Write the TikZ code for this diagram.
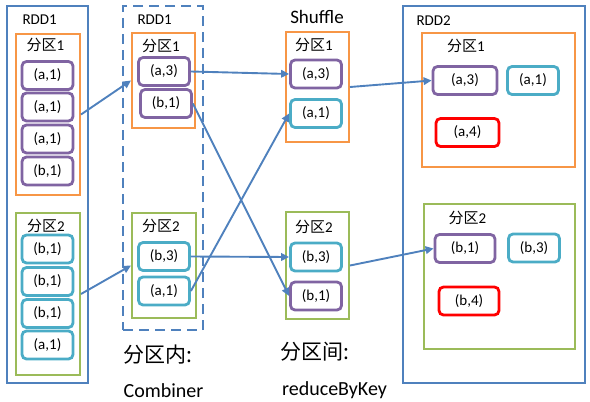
\documentclass[tikz,border=0pt]{standalone}
\usepackage{fontspec}
\setmainfont{Carlito}
\newfontfamily\cjk{Noto Sans CJK SC}
\usetikzlibrary{arrows.meta}

\definecolor{rddblue}{RGB}{79,129,189}
\definecolor{partorange}{RGB}{247,150,70}
\definecolor{partgreen}{RGB}{155,187,89}
\definecolor{pairpurple}{RGB}{128,100,162}
\definecolor{paircyan}{RGB}{75,172,198}
\definecolor{pairred}{RGB}{255,0,0}

\begin{document}
\begin{tikzpicture}[x=1pt,y=-1pt,
  pair/.style={draw, rounded corners=4.5pt, line width=2.8pt, minimum width=51pt,
    minimum height=28pt, inner sep=0pt, font=\fontsize{15}{15}\selectfont},
  part/.style={draw, line width=2pt, inner sep=0pt},
  rdd/.style={draw=rddblue, line width=2.4pt, inner sep=0pt},
  flow/.style={rddblue, line width=1.9pt, -{Triangle[length=8pt,width=7.5pt]}},
  lbl/.style={font=\fontsize{15}{15}\selectfont},
  biglbl/.style={font=\fontsize{20}{20}\selectfont}]

  \useasboundingbox (0,0) rectangle (590,402);

  % RDD1 (input)
  \node[rdd, minimum width=81pt, minimum height=377pt] (rddA) at (47.5,194.5) {};
  \node[lbl, anchor=west] at (19,20) {RDD1};
  \node[part, draw=partorange, minimum width=64pt, minimum height=161pt] (lp1) at (48,114.5) {};
  \node[part, draw=partgreen, minimum width=64pt, minimum height=162pt] (lp2) at (48,294) {};
  \node[lbl] at (45.5,45) {{\cjk 分区}1};
  \node[lbl] at (46,226) {{\cjk 分区}2};
  \foreach \y/\t [count=\i] in {75.5/a,107/a,139/a,171/b}
    \node[pair, draw=pairpurple] (la\i) at (47.5,\y) {(\t,1)};
  \foreach \y/\t [count=\i] in {249/b,281.5/b,313.5/b,345/a}
    \node[pair, draw=paircyan] (lb\i) at (47.5,\y) {(\t,1)};

  % RDD1 after combiner
  \node[rdd, dash pattern=on 10pt off 6pt, minimum width=80pt, minimum height=324pt] (comb) at (163,168) {};
  \node[lbl, anchor=west] at (134,20) {RDD1};
  \node[part, draw=partorange, minimum width=63pt, minimum height=95pt] (dp1) at (163.5,80.5) {};
  \node[part, draw=partgreen, minimum width=64pt, minimum height=105pt] (dp2) at (164,265.5) {};
  \node[lbl] at (161,46) {{\cjk 分区}1};
  \node[lbl] at (161,226) {{\cjk 分区}2};
  \node[pair, draw=pairpurple] (da3) at (164,71.5) {(a,3)};
  \node[pair, draw=pairpurple] (db1) at (166,103.5) {(b,1)};
  \node[pair, draw=paircyan] (db3) at (164,256.5) {(b,3)};
  \node[pair, draw=paircyan] (da1) at (164,291) {(a,1)};
  \node[font=\fontsize{21}{21}\selectfont] at (157.5,355) {\cjk 分区内:};
  \node[biglbl] at (163.5,391) {Combiner};

  % Shuffle
  \node[font=\fontsize{19}{19}\selectfont] at (317,17) {Shuffle};
  \node[part, draw=partorange, minimum width=63pt, minimum height=110pt] (sp1) at (317.5,87) {};
  \node[part, draw=partgreen, minimum width=63pt, minimum height=107pt] (sp2) at (317.5,265.5) {};
  \node[lbl] at (314,45) {{\cjk 分区}1};
  \node[lbl] at (314,227) {{\cjk 分区}2};
  \node[pair, draw=pairpurple] (sa3) at (316,74) {(a,3)};
  \node[pair, draw=paircyan] (sa1) at (316,113.5) {(a,1)};
  \node[pair, draw=paircyan] (sb3) at (316,257) {(b,3)};
  \node[pair, draw=pairpurple] (sb1) at (316,296) {(b,1)};
  \node[font=\fontsize{21}{21}\selectfont] at (315,352) {\cjk 分区间:};
  \node[biglbl] at (334.5,390) {reduceByKey};

  % RDD2 (output)
  \node[rdd, minimum width=182pt, minimum height=377pt] (rddB) at (494,194.5) {};
  \node[lbl, anchor=west] at (413,21) {RDD2};
  \node[part, draw=partorange, minimum width=153pt, minimum height=134pt] (rp1) at (498.5,100) {};
  \node[part, draw=partgreen, minimum width=151pt, minimum height=145pt] (rp2) at (499.5,276.5) {};
  \node[lbl] at (466,46) {{\cjk 分区}1};
  \node[lbl] at (467.5,218) {{\cjk 分区}2};
  \node[pair, draw=pairpurple, minimum width=64pt] (ra3) at (465,80.5) {(a,3)};
  \node[pair, draw=paircyan] (ra1) at (533,80.5) {(a,1)};
  \node[pair, draw=pairred, minimum width=63pt] (ra4) at (467.5,132.5) {(a,4)};
  \node[pair, draw=pairpurple, minimum width=60pt] (rb1) at (465,248.5) {(b,1)};
  \node[pair, draw=paircyan] (rb3) at (534,248) {(b,3)};
  \node[pair, draw=pairred, minimum width=60pt] (rb4) at (469,301) {(b,4)};

  % Connectors
  \draw[flow] (lp1.east) -- (dp1.west);
  \draw[flow] (lp2.east) -- (dp2.west);
  \draw[flow] (da3.east) -- (sa3.west);
  \draw[flow] (db1.east) -- (sb1.west);
  \draw[flow] (da1.east) -- (sa1.west);
  \draw[flow] (db3.east) -- (sb3.west);
  \draw[flow] (sp1.east) -- (ra3.west);
  \draw[flow] (sp2.east) -- (rb1.west);

\end{tikzpicture}
\end{document}
